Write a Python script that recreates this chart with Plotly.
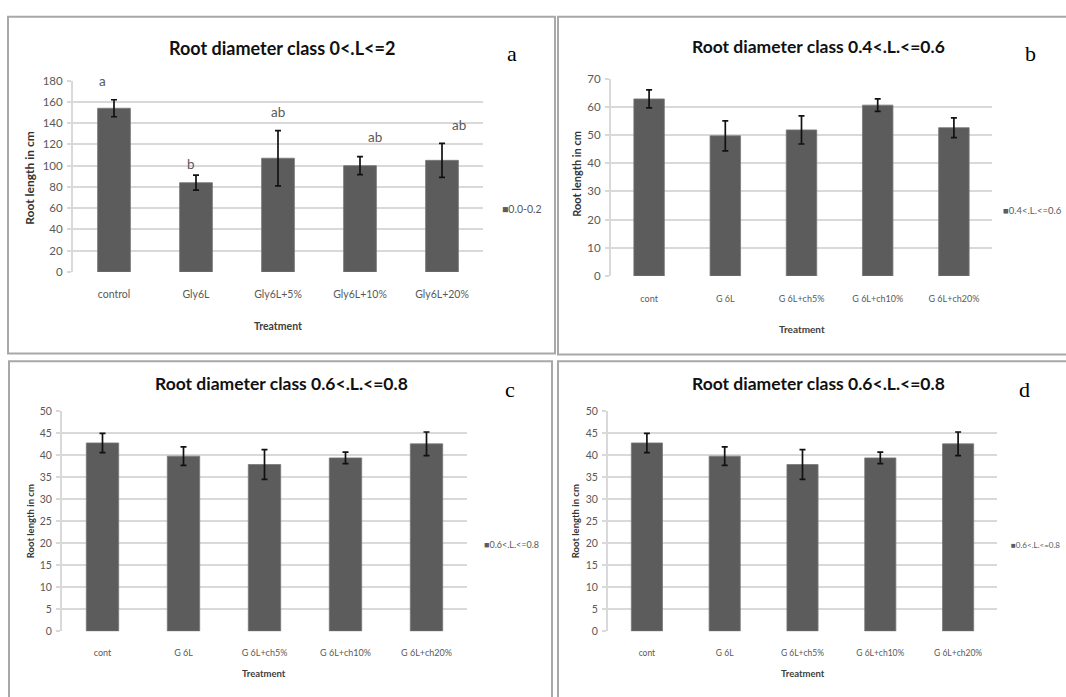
import plotly.graph_objects as go

W, H = 1066, 697

# ---------------- data ----------------
cats_a = ["control", "Gly6L", "Gly6L+5%", "Gly6L+10%", "Gly6L+20%"]
vals_a = [154, 84, 107, 100, 105]
err_a = [8, 7, 26, 8.5, 16]
letters_a = ["a", "b", "ab", "ab", "ab"]

cats_b = ["cont", "G 6L", "G 6L+ch5%", "G 6L+ch10%", "G 6L+ch20%"]
vals_b = [62.8, 49.7, 51.8, 60.6, 52.6]
err_b = [3.2, 5.3, 5.0, 2.2, 3.5]

cats_c = ["cont", "G 6L", "G 6L+ch5%", "G 6L+ch10%", "G 6L+ch20%"]
vals_c = [42.8, 39.8, 37.9, 39.4, 42.6]
err_c = [2.2, 2.1, 3.4, 1.3, 2.7]

cats_d = ["cont", "G 6L", "G 6L+ch5%", "G 6L+ch10%", "G 6L+ch20%"]
vals_d = [42.8, 39.8, 37.9, 39.4, 42.6]
err_d = [2.2, 2.1, 3.4, 1.3, 2.7]

titles = ["Root diameter class 0<.L<=2", "Root diameter class 0.4<.L.<=0.6",
          "Root diameter class 0.6<.L.<=0.8", "Root diameter class 0.6<.L.<=0.8"]
series_names = ["0.0-0.2", "0.4<.L.<=0.6", "0.6<.L.<=0.8", "0.6<.L.<=0.8"]
panel_labels = ["a", "b", "c", "d"]
y_title = "Root length in cm"
x_title = "Treatment"

# ---------------- styling / layout helpers ----------------
FONT = "Lato, Liberation Sans, sans-serif"
SERIF = "Liberation Serif, DejaVu Serif, serif"
BAR = "#5c5c5c"
GRID = "#d9d9d9"
TICK = "#595959"


def px(x):
    return x / W


def py(y):
    return 1 - y / H


panels = [
    dict(cats=cats_a, vals=vals_a, err=err_a, xd=(73, 483), yd=(270, 75), rng=180, dt=20,
         tfs=11.5, xfs=10.5, xtfs=10.5, ytfs=12, stand=15, tsz=18,
         title=(282, 42), lab=(512, 47), xt=(278, 325), yt=(30, 174), leg=(500, 206), lfs=10.5),
    dict(cats=cats_b, vals=vals_b, err=err_b, xd=(611, 992), yd=(274, 73), rng=70, dt=10,
         tfs=11.5, xfs=9, xtfs=10, ytfs=11, stand=16, tsz=17.5,
         title=(818, 40), lab=(1030, 47), xt=(802, 328), yt=(577, 170), leg=(1001, 207), lfs=9.5),
    dict(cats=cats_c, vals=vals_c, err=err_c, xd=(62, 467), yd=(636, 412), rng=50, dt=5,
         tfs=10.5, xfs=9, xtfs=9.5, ytfs=9.5, stand=15, tsz=17.5,
         title=(281, 384), lab=(510, 390), xt=(264, 679), yt=(30, 524), leg=(482, 548), lfs=9),
    dict(cats=cats_d, vals=vals_d, err=err_d, xd=(608, 997), yd=(636, 412), rng=50, dt=5,
         tfs=10.5, xfs=8.5, xtfs=9.5, ytfs=9.5, stand=15, tsz=17.5,
         title=(818, 384), lab=(1024, 390), xt=(803, 679), yt=(575, 524), leg=(1009, 548), lfs=8),
]

fig = go.Figure()
annotations = []
layout = {}

for i, p in enumerate(panels):
    n = "" if i == 0 else str(i + 1)
    fig.add_trace(go.Bar(
        x=p["cats"], y=p["vals"], name=series_names[i],
        marker=dict(color=BAR, line=dict(color="#777777", width=0.8)),
        error_y=dict(type="data", array=p["err"], visible=True, color="#111111",
                     thickness=1.7, width=3),
        xaxis="x" + n, yaxis="y" + n, showlegend=False,
    ))
    layout["xaxis" + n] = dict(
        domain=[px(p["xd"][0]), px(p["xd"][1])], anchor="y" + n,
        showgrid=False, zeroline=False, showline=False, ticks="",
        tickfont=dict(family=FONT, size=p["xfs"], color=TICK),
        ticklabelstandoff=p["stand"], fixedrange=True,
    )
    layout["yaxis" + n] = dict(
        domain=[py(p["yd"][0]), py(p["yd"][1])], anchor="x" + n,
        range=[0, p["rng"]], dtick=p["dt"], tick0=0,
        showgrid=True, gridcolor=GRID, gridwidth=2,
        zeroline=False, showline=True, linecolor=GRID, linewidth=2,
        ticks="outside", ticklen=4, tickcolor=GRID, tickwidth=2,
        tickfont=dict(family=FONT, size=p["tfs"], color=TICK),
        ticklabelstandoff=2, fixedrange=True,
    )
    # chart title
    annotations.append(dict(text="<b>" + titles[i] + "</b>", x=px(p["title"][0]), y=py(p["title"][1]),
                            xref="paper", yref="paper", showarrow=False,
                            font=dict(family=FONT, size=p["tsz"], color="#111111"),
                            xanchor="center", yanchor="middle"))
    # panel letter
    annotations.append(dict(text=panel_labels[i], x=px(p["lab"][0]), y=py(p["lab"][1]),
                            xref="paper", yref="paper", showarrow=False,
                            font=dict(family=SERIF, size=22, color="#000000"),
                            xanchor="center", yanchor="middle"))
    # x axis title
    annotations.append(dict(text="<b>" + x_title + "</b>", x=px(p["xt"][0]), y=py(p["xt"][1]),
                            xref="paper", yref="paper", showarrow=False,
                            font=dict(family=FONT, size=p["xtfs"], color="#404040"),
                            xanchor="center", yanchor="middle"))
    # y axis title
    annotations.append(dict(text="<b>" + y_title + "</b>", x=px(p["yt"][0]), y=py(p["yt"][1]),
                            xref="paper", yref="paper", showarrow=False, textangle=-90,
                            font=dict(family=FONT, size=p["ytfs"], color="#333333"),
                            xanchor="center", yanchor="middle"))
    # legend entry
    annotations.append(dict(text="<span style='color:%s'>■</span>%s" % (BAR, series_names[i]),
                            x=px(p["leg"][0]), y=py(p["leg"][1]),
                            xref="paper", yref="paper", showarrow=False,
                            font=dict(family=FONT, size=p["lfs"], color=TICK),
                            xanchor="left", yanchor="middle"))

# significance letters in panel a
letter_y = [180, 102, 150, 127, 138]
letter_shift = [-12, -5, 0, 15, 17]
for c, l, ly, sh in zip(cats_a, letters_a, letter_y, letter_shift):
    annotations.append(dict(text=l, x=c, y=ly, xref="x", yref="y", showarrow=False,
                            xshift=sh, font=dict(family=FONT, size=13.5, color=TICK),
                            xanchor="center", yanchor="middle"))

# panel frames
frames = [(8, 10, 555, 353), (558, 10, 1075, 354), (9, 361, 552, 705), (558, 361, 1075, 705)]
shapes = []
for (x0, y0, x1, y1) in frames:
    shapes.append(dict(type="rect", xref="paper", yref="paper",
                       x0=px(x0), x1=px(x1), y0=py(y0), y1=py(y1),
                       line=dict(color="#a8a8a8", width=2), fillcolor="rgba(0,0,0,0)", layer="below"))

fig.update_layout(
    width=W, height=H, autosize=False,
    margin=dict(l=0, r=0, t=0, b=0),
    paper_bgcolor="white", plot_bgcolor="white",
    bargap=0.6, showlegend=False,
    annotations=annotations, shapes=shapes,
    **layout,
)

fig.write_html("out.html", config={"displayModeBar": False})
